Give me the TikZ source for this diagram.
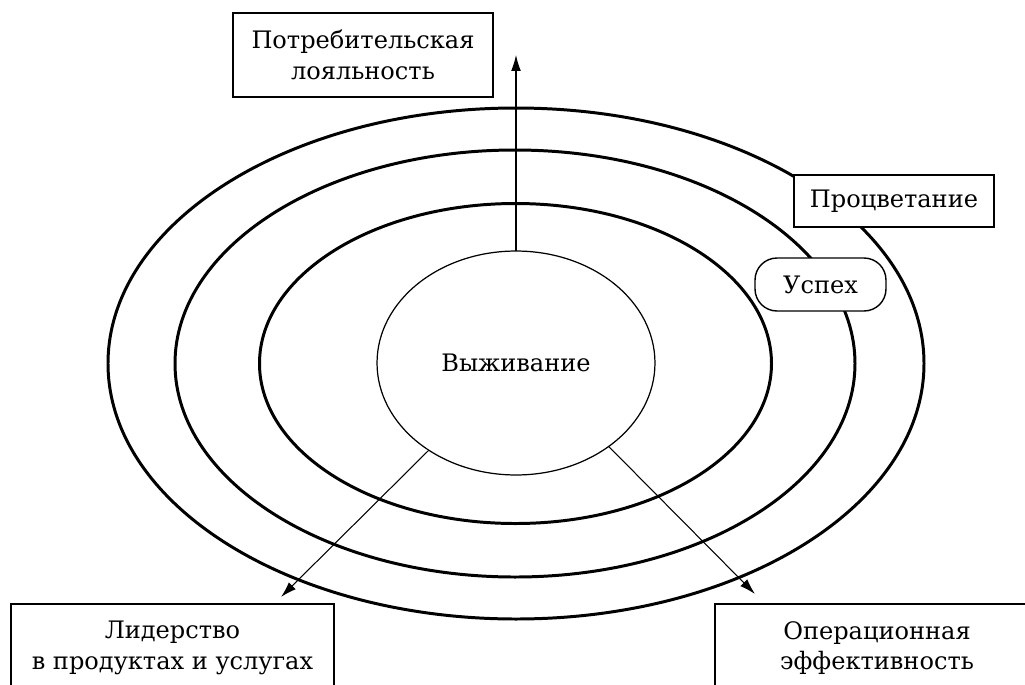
\documentclass[tikz,border=0pt]{standalone}
\usepackage{fontspec}
\setmainfont{DejaVu Serif}
\usetikzlibrary{shapes.geometric,arrows.meta}

\begin{document}
\begin{tikzpicture}[x = 0.02cm, y = -0.02cm, line width = 0.7pt,
    ring/.style = {line width = 1.7pt},
    lbl/.style = {draw, fill = white, line width = 0.8pt, align = center, inner sep = 0pt,
        font = \fontsize{13.7}{17.5}\selectfont},
    arr/.style = {-{Latex[length = 9pt, width = 5.5pt]}, line width = 0.6pt}]
\clip (0,0) rectangle (1025,684);
% rings
\draw[ring] (516,363.5) ellipse [x radius = 408, y radius = 255.5];
\draw[ring] (515,363.5) ellipse [x radius = 340, y radius = 213.5];
\draw[ring] (515.5,363.5) ellipse [x radius = 256, y radius = 160];
\draw (516,363) node[ellipse, draw, fill = white, minimum width = 5.56cm, minimum height = 4.48cm,
    inner sep = 0pt, outer sep = 0pt, font = \fontsize{13.7}{17.5}\selectfont](surv){Выживание};
% labels
\draw (363,55) node[lbl, minimum width = 5.2cm, minimum height = 1.68cm](loyal){Потребительская\\лояльность}
    (894,201) node[lbl, minimum width = 4.0cm, minimum height = 1.04cm](prosp){Процветание}
    (820.5,284.5) node[lbl, rounded corners = 0.44cm, minimum width = 2.62cm, minimum height = 1.06cm](succ){Успех}
    (172.5,648) node[lbl, minimum width = 6.46cm, minimum height = 1.76cm](lead){Лидерство\\в продуктах и услугах}
    (877,648) node[lbl, minimum width = 6.48cm, minimum height = 1.76cm](oper){Операционная\\эффективность};
% arrows
\coordinate (t1) at (surv.north |- 0,55);
\coordinate (t2) at (281,597);
\coordinate (t3) at (755,594);
\draw[arr] (surv.north) -- (t1);
\draw[arr] (surv.225) -- (t2);
\draw[arr] (surv.318) -- (t3);
\end{tikzpicture}
\end{document}
